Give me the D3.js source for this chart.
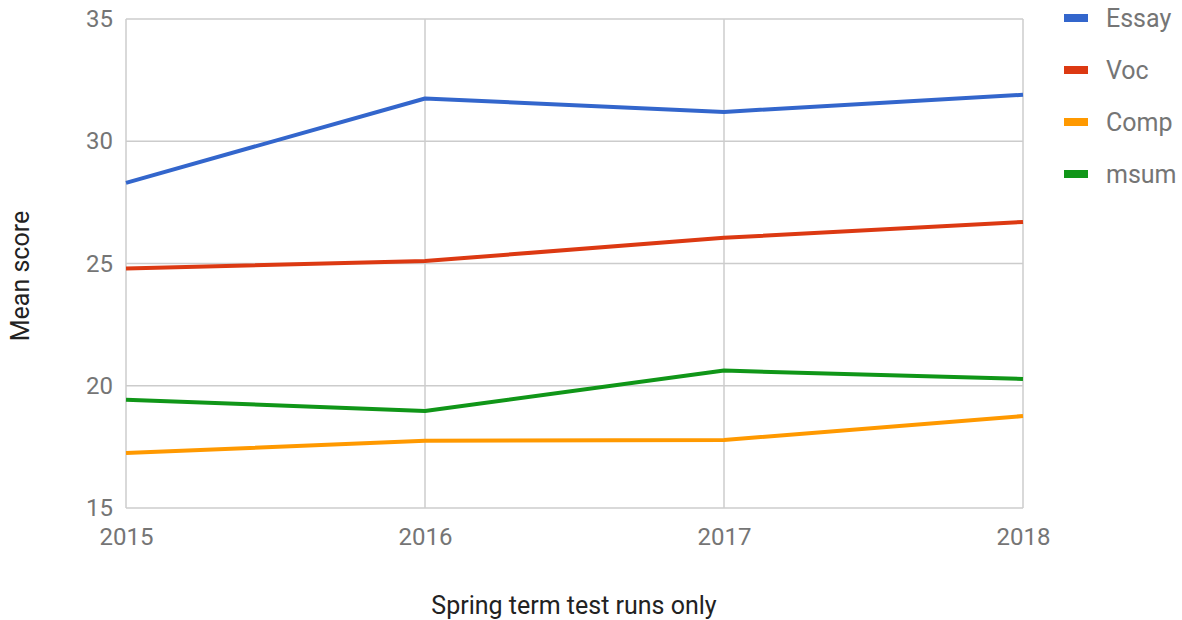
<!DOCTYPE html>
<html>
<head>
<meta charset="utf-8">
<script src="https://cdn.jsdelivr.net/npm/d3@7"></script>
<style>
  body { margin: 0; background: #fff; }
  svg text { font-family: Roboto, "Noto Sans", sans-serif; }
</style>
</head>
<body>
<div id="canvas"></div>
<script>
// data
var years = [2015, 2016, 2017, 2018];
var essay = [28.3, 31.75, 31.2, 31.9];
var voc = [24.8, 25.1, 26.05, 26.7];
var comp = [17.25, 17.75, 17.78, 18.76];
var msum = [19.43, 18.97, 20.62, 20.28];
var seriesNames = ['Essay', 'Voc', 'Comp', 'msum'];
var yTicks = [15, 20, 25, 30, 35];

var colors = ['#3366cc', '#dc3912', '#ff9900', '#109618'];
var allSeries = [essay, voc, comp, msum];

var W = 1182, H = 620;
var m = {t: 19, r: 160, b: 112, l: 126};
var w = 1023 - m.l, h = 508 - m.t;

var svg = d3.select('#canvas').append('svg')
  .attr('width', W).attr('height', H);

var plot = svg.append('g')
  .attr('transform', 'translate(' + m.l + ',' + m.t + ')');

var x = d3.scalePoint().domain(years).range([0, w]);
var y = d3.scaleLinear().domain([15, 35]).range([h, 0]);

// gridlines
plot.selectAll('.hgrid').data(yTicks).enter().append('line')
  .attr('x1', 0).attr('x2', w)
  .attr('y1', function(d){ return y(d); })
  .attr('y2', function(d){ return y(d); })
  .attr('stroke', '#cccccc').attr('stroke-width', 1.5);

plot.selectAll('.vgrid').data(years).enter().append('line')
  .attr('x1', function(d){ return x(d); })
  .attr('x2', function(d){ return x(d); })
  .attr('y1', 0).attr('y2', h)
  .attr('stroke', '#cccccc').attr('stroke-width', 1.5);

// axes (labels only)
var axisY = d3.axisLeft(y).tickValues(yTicks).tickSize(0).tickPadding(13);
var gy = plot.append('g').call(axisY);
gy.select('.domain').remove();
gy.selectAll('text').attr('fill', '#757575').style('font-size', '24px');

var axisX = d3.axisBottom(x).tickSize(0).tickPadding(20).tickFormat(d3.format('d'));
var gx = plot.append('g').attr('transform', 'translate(0,' + h + ')').call(axisX);
gx.select('.domain').remove();
gx.selectAll('text').attr('fill', '#757575').style('font-size', '24px');

// lines
var line = d3.line()
  .x(function(d, i){ return x(years[i]); })
  .y(function(d){ return y(d); });

plot.selectAll('.series').data(allSeries).enter().append('path')
  .attr('d', line)
  .attr('fill', 'none')
  .attr('stroke', function(d, i){ return colors[i]; })
  .attr('stroke-width', 4)
  .attr('stroke-linejoin', 'round');

// legend
var legend = svg.selectAll('.leg').data(seriesNames).enter().append('g')
  .attr('transform', function(d, i){ return 'translate(1064,' + (18 + i * 52) + ')'; });
legend.append('rect')
  .attr('x', 0).attr('y', -4).attr('width', 24).attr('height', 8)
  .attr('fill', function(d, i){ return colors[i]; });
legend.append('text')
  .attr('x', 42).attr('y', 9)
  .attr('fill', '#757575').style('font-size', '25px')
  .text(function(d){ return d; });

// axis titles
svg.append('text')
  .attr('x', 574).attr('y', 614)
  .attr('text-anchor', 'middle')
  .attr('fill', '#222').style('font-size', '25px')
  .text('Spring term test runs only');

svg.append('text')
  .attr('transform', 'translate(29,276) rotate(-90)')
  .attr('text-anchor', 'middle')
  .attr('fill', '#222').style('font-size', '25px')
  .text('Mean score');
</script>
</body>
</html>
